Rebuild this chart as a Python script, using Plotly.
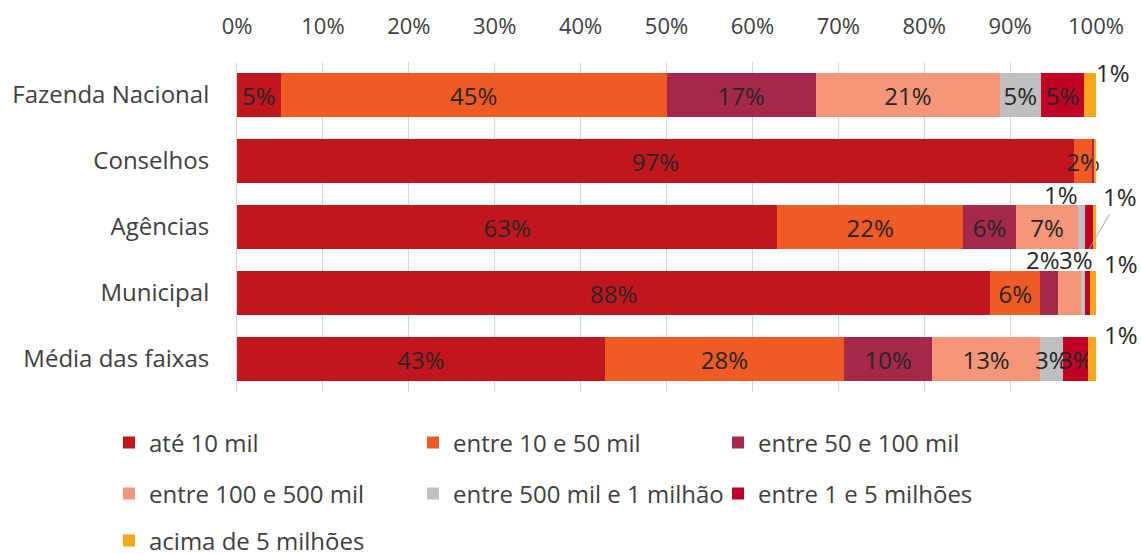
import plotly.graph_objects as go

# Categories (top to bottom) and value bands
categories = ["Fazenda Nacional", "Conselhos", "Agências", "Municipal", "Média das faixas"]
bands = [
    "até 10 mil",
    "entre 10 e 50 mil",
    "entre 50 e 100 mil",
    "entre 100 e 500 mil",
    "entre 500 mil e 1 milhão",
    "entre 1 e 5 milhões",
    "acima de 5 milhões",
]

# Share (%) of each band per category
ate_10_mil = [5.1, 97.4, 62.9, 87.7, 42.8]
entre_10_50_mil = [44.9, 2.2, 21.6, 5.8, 27.9]
entre_50_100_mil = [17.4, 0.2, 6.2, 2.1, 10.2]
entre_100_500_mil = [21.4, 0.0, 7.2, 2.7, 12.6]
entre_500_mil_1_milhao = [4.8, 0.0, 0.8, 0.4, 2.7]
entre_1_5_milhoes = [5.0, 0.0, 1.0, 0.6, 2.9]
acima_5_milhoes = [1.4, 0.2, 0.3, 0.7, 0.9]

series = [
    ate_10_mil,
    entre_10_50_mil,
    entre_50_100_mil,
    entre_100_500_mil,
    entre_500_mil_1_milhao,
    entre_1_5_milhoes,
    acima_5_milhoes,
]

colors = ["#C1161E", "#F05A24", "#A6284A", "#F3967A", "#BFBFBF", "#C00025", "#FAA61A"]

FONT = "Open Sans"
LABEL_COLOR = "#262626"
AXIS_COLOR = "#404040"
W, H = 1141, 554
ML, MR, MT, MB = 237, 45, 62, 162


def pct(v):
    return f"{int(v + 0.5)}%"


# Labels drawn beside their segment instead of inside: (category, band index) -> placement
outside_labels = {
    ("Fazenda Nacional", 6): dict(xshift=23, yshift=23),
    ("Agências", 4): dict(xshift=-20, yshift=33),
    ("Municipal", 2): dict(xshift=-6, yshift=34),
    ("Municipal", 3): dict(xshift=6, yshift=34),
    ("Municipal", 6): dict(xshift=28, yshift=30),
    ("Média das faixas", 6): dict(xshift=29, yshift=25),
}
# Label joined to its segment by a leader line
leader_labels = {
    ("Agências", 5): dict(yshift=-22, ax=31, ay=-53),
}
# Segments left without a label
unlabeled = {
    ("Conselhos", 2), ("Conselhos", 3), ("Conselhos", 4), ("Conselhos", 5), ("Conselhos", 6),
    ("Agências", 6), ("Municipal", 4), ("Municipal", 5),
}

# Legend grid: three columns, three rows (pixel anchors of each entry)
legend_cols = [109, 413, 718]
legend_rows = [443, 494, 541]

fig = go.Figure()
legend_layouts = {}
for bi, (name, vals, col) in enumerate(zip(bands, series, colors)):
    texts = []
    for ci, cat in enumerate(categories):
        key = (cat, bi)
        if key in outside_labels or key in leader_labels or key in unlabeled:
            texts.append("")
        else:
            texts.append(pct(vals[ci]))
    legend_id = "legend" if bi == 0 else f"legend{bi + 1}"
    legend_layouts[legend_id] = dict(
        orientation="h",
        font=dict(family=FONT, size=24, color=AXIS_COLOR),
        xref="container",
        yref="container",
        x=legend_cols[bi % 3] / W,
        y=1 - legend_rows[bi // 3] / H,
        xanchor="left",
        yanchor="middle",
        bgcolor="rgba(0,0,0,0)",
    )
    fig.add_trace(
        go.Bar(
            y=categories,
            x=vals,
            orientation="h",
            name=name,
            marker=dict(color=col, line=dict(width=0)),
            text=texts,
            textposition="inside",
            insidetextanchor="middle",
            textangle=0,
            constraintext="none",
            insidetextfont=dict(family=FONT, size=24, color=LABEL_COLOR),
            cliponaxis=False,
            legend=legend_id,
            hoverinfo="skip",
        )
    )


def seg_center(cat, bi):
    ci = categories.index(cat)
    start = sum(series[k][ci] for k in range(bi))
    return start + series[bi][ci] / 2


annotations = []
for (cat, bi), place in outside_labels.items():
    ci = categories.index(cat)
    annotations.append(
        dict(
            x=seg_center(cat, bi), y=cat, xref="x", yref="y",
            text=pct(series[bi][ci]), showarrow=False,
            font=dict(family=FONT, size=24, color=LABEL_COLOR),
            **place,
        )
    )
for (cat, bi), place in leader_labels.items():
    ci = categories.index(cat)
    annotations.append(
        dict(
            x=seg_center(cat, bi), y=cat, xref="x", yref="y",
            text=pct(series[bi][ci]), showarrow=True, arrowhead=0,
            arrowwidth=1, arrowcolor="#A6A6A6", axref="pixel", ayref="pixel",
            font=dict(family=FONT, size=24, color=LABEL_COLOR),
            **place,
        )
    )

fig.update_layout(
    width=W,
    height=H,
    margin=dict(l=ML, r=MR, t=MT, b=MB, autoexpand=False),
    barmode="stack",
    bargap=0.333,
    plot_bgcolor="white",
    paper_bgcolor="white",
    font=dict(family=FONT, color=AXIS_COLOR),
    annotations=annotations,
    xaxis=dict(
        side="top",
        range=[0, 100],
        dtick=10,
        ticksuffix="%",
        showgrid=True,
        gridcolor="#D9D9D9",
        gridwidth=1,
        zeroline=False,
        showline=False,
        ticks="",
        automargin=False,
        tickfont=dict(family=FONT, size=22, color=AXIS_COLOR),
        ticklabelstandoff=23,
    ),
    yaxis=dict(
        range=[len(categories) - 0.5, -0.5],
        showgrid=False,
        showline=True,
        linecolor="#D9D9D9",
        linewidth=1,
        ticks="",
        automargin=False,
        tickfont=dict(family=FONT, size=24, color=AXIS_COLOR),
        ticklabelstandoff=22,
    ),
    showlegend=True,
    **legend_layouts,
)

fig.write_html("out.html")
